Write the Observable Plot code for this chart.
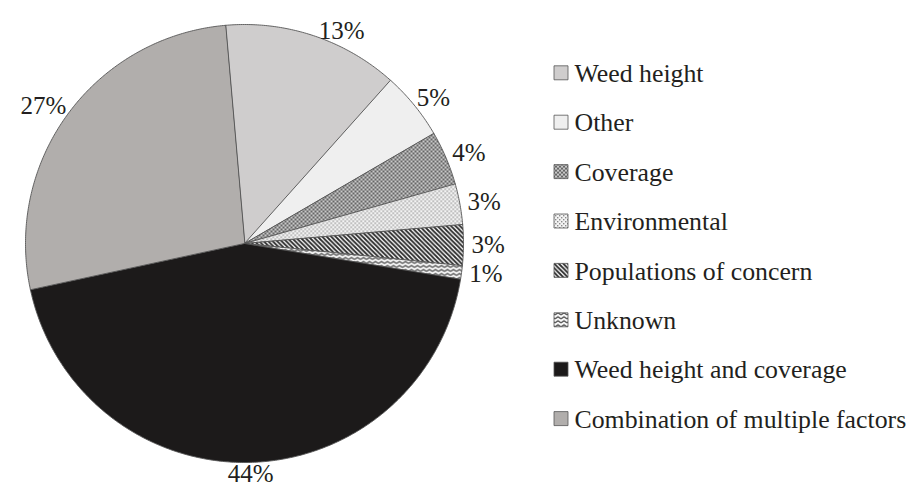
<!DOCTYPE html>
<html>
<head>
<meta charset="utf-8">
<script src="https://cdn.jsdelivr.net/npm/d3@7"></script>
<script src="https://cdn.jsdelivr.net/npm/@observablehq/plot@0.6"></script>
<style>
  html, body { margin: 0; padding: 0; background: #fff; }
  #chart svg { display: block; }
  #chart text { font-family: "Liberation Serif", "Times New Roman", serif; }
</style>
</head>
<body>
<div id="chart"></div>
<script>
// Reasons given for the management decision (share of responses, %)
const categories = [
  "Weed height",
  "Other",
  "Coverage",
  "Environmental",
  "Populations of concern",
  "Unknown",
  "Weed height and coverage",
  "Combination of multiple factors"
];
const shares = [13, 5, 4, 3, 3, 1, 44, 27];
const fills = [
  "#cfcdcd",
  "#efefef",
  "url(#pat-coverage)",
  "url(#pat-environmental)",
  "url(#pat-populations)",
  "url(#pat-unknown)",
  "#1c1a1a",
  "#b1aeac"
];

// Layout (pixels): pie centre and radius; x/y scales are set so one unit = one radius
const W = 909, H = 490;
const CX = 244, CY = 243, R = 219;
const px = x => (x - CX) / R;
const py = y => (CY - y) / R;
const START = -5 * Math.PI / 180;
const LABEL_FONT = 25;
const LEGEND_FONT = 25.8;
const SERIF = "Liberation Serif";

const rows = categories.map((c, i) => ({key: c, value: shares[i], fill: fills[i]}));
const arcs = d3.pie().sort(null).value(d => d.value)
  .startAngle(START).endAngle(START + 2 * Math.PI)(rows);

// Each slice as a closed polygon: centre, then along the rim
const slicePts = arcs.flatMap(a => {
  const n = Math.max(2, Math.ceil((a.endAngle - a.startAngle) / (Math.PI / 360)));
  const pts = [{key: a.data.key, fill: a.data.fill, x: 0, y: 0}];
  for (let k = 0; k <= n; k++) {
    const t = a.startAngle + (a.endAngle - a.startAngle) * k / n;
    pts.push({key: a.data.key, fill: a.data.fill, x: Math.sin(t), y: Math.cos(t)});
  }
  return pts;
});

// Percentage labels outside the rim, slid along the circle if they would crowd the top edge
const labels = arcs.map(a => {
  const text = `${a.data.value}%`;
  const w = LABEL_FONT * (0.5 * String(a.data.value).length + 0.833);
  const pos = t => ({dx: (R + 8 + w / 2) * Math.sin(t), dy: (R + 12) * Math.cos(t)});
  let t = (a.startAngle + a.endAngle) / 2;
  const dir = Math.sin(t) >= 0 ? 1 : -1;
  while (CY - pos(t).dy < 30) t += dir * Math.PI / 360;
  const p = pos(t);
  return {text, x: p.dx / R, y: p.dy / R};
});

// Legend rows to the right of the pie
const legend = categories.map((c, i) => ({
  key: c,
  fill: fills[i],
  x: px(560.5),
  tx: px(574),
  y: py(72.3 + 49.4 * i)
}));

const plot = Plot.plot({
  width: W,
  height: H,
  margin: 0,
  x: {domain: [px(0), px(W)], axis: null},
  y: {domain: [py(H), py(0)], axis: null},
  color: {type: "identity"},
  style: {fontFamily: SERIF, background: "#fff"},
  marks: [
    Plot.line(slicePts, {
      x: "x", y: "y", z: "key", fill: "fill",
      stroke: "#555", strokeWidth: 0.9, curve: "linear-closed"
    }),
    Plot.text(labels, {
      x: "x", y: "y", text: "text",
      fontSize: LABEL_FONT, fontFamily: SERIF, fill: "#231f20"
    }),
    Plot.dot(legend, {
      x: "x", y: "y", symbol: "square", r: 14 / Math.sqrt(Math.PI),
      fill: "fill", stroke: "#555", strokeWidth: 0.8
    }),
    Plot.text(legend, {
      x: "tx", y: "y", dy: 1, text: "key", textAnchor: "start",
      fontSize: LEGEND_FONT, fontFamily: SERIF, fill: "#231f20"
    })
  ]
});

// Hatch patterns used by the textured slices
const defs = d3.select(plot).insert("defs", ":first-child");
function pattern(id, w, h, bg) {
  const p = defs.append("pattern").attr("id", id)
    .attr("patternUnits", "userSpaceOnUse").attr("width", w).attr("height", h);
  p.append("rect").attr("width", w).attr("height", h).attr("fill", bg);
  return p;
}
const cov = pattern("pat-coverage", 4, 4, "#c9c9c9");
cov.append("rect").attr("width", 2).attr("height", 2).attr("fill", "#666");
cov.append("rect").attr("x", 2).attr("y", 2).attr("width", 2).attr("height", 2).attr("fill", "#666");

const env = pattern("pat-environmental", 4, 4, "#f3f3f3");
env.append("rect").attr("width", 1.4).attr("height", 1.4).attr("fill", "#8a8a8a");
env.append("rect").attr("x", 2).attr("y", 2).attr("width", 1.4).attr("height", 1.4).attr("fill", "#8a8a8a");

const pop = pattern("pat-populations", 4.5, 4.5, "#ffffff");
pop.append("path").attr("d", "M-1,-1 L5.5,5.5 M-1,3.5 L1,5.5 M3.5,-1 L5.5,1")
  .attr("stroke", "#2a2a2a").attr("stroke-width", 1.8);

const unk = pattern("pat-unknown", 6, 4, "#ffffff");
unk.append("path").attr("d", "M0,3 L3,1 L6,3")
  .attr("fill", "none").attr("stroke", "#3a3a3a").attr("stroke-width", 1.2);

document.getElementById("chart").appendChild(plot);
</script>
</body>
</html>
